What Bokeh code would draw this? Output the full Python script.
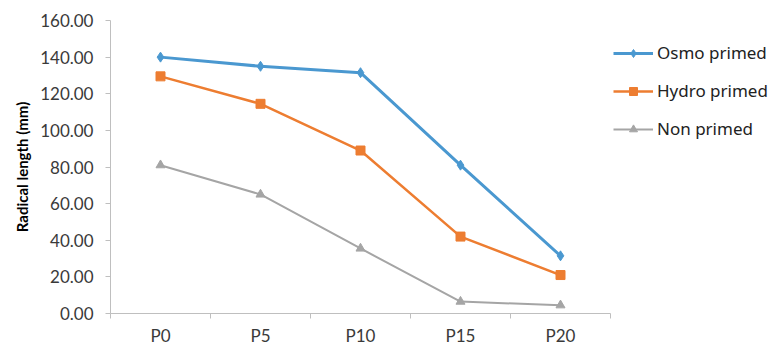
from bokeh.plotting import figure
from bokeh.models import (FixedTicker, NumeralTickFormatter, Range1d, Legend,
                          LegendItem)
from bokeh.embed import file_html
from bokeh.resources import INLINE

# Priming treatments measured at each stress level
categories = ["P0", "P5", "P10", "P15", "P20"]
osmo_primed = [140.0, 135.0, 131.5, 81.0, 31.5]
hydro_primed = [129.5, 114.5, 89.0, 42.0, 21.0]
non_primed = [81.0, 65.0, 35.5, 6.5, 4.5]
y_ticks = [0, 20, 40, 60, 80, 100, 120, 140, 160]

# categories sit at the centre of each slot, ticks at the slot edges
xs = [i + 0.5 for i in range(len(categories))]

p = figure(frame_width=500, frame_height=293, output_backend="svg",
           toolbar_location=None,
           x_range=Range1d(0, len(categories)), y_range=Range1d(0, 160),
           min_border_left=110, min_border_right=164, min_border_top=20,
           min_border_bottom=33)
p.outline_line_color = None
p.xgrid.visible = False
p.ygrid.visible = False

axis_color = "#BFBFBF"
label_color = "#3A3A3A"

# x axis: labels at slot centres, tick marks on slot boundaries
p.xaxis.ticker = FixedTicker(ticks=xs, minor_ticks=list(range(len(categories) + 1)))
p.xaxis.major_label_overrides = {x: c for x, c in zip(xs, categories)}
p.xaxis.major_tick_line_color = None
p.xaxis.major_tick_out = 5
p.xaxis.minor_tick_line_color = axis_color
p.xaxis.minor_tick_out = 5
p.xaxis.minor_tick_in = 0
p.xaxis.axis_line_color = axis_color
p.xaxis.major_label_standoff = 6
p.xaxis.major_label_text_font = "Lato"
p.xaxis.major_label_text_font_size = "17px"
p.xaxis.major_label_text_color = label_color

p.yaxis.ticker = FixedTicker(ticks=y_ticks, minor_ticks=[])
p.yaxis.formatter = NumeralTickFormatter(format="0.00")
p.yaxis.axis_line_color = axis_color
p.yaxis.major_tick_line_color = axis_color
p.yaxis.major_tick_out = 5
p.yaxis.major_tick_in = 0
p.yaxis.major_label_standoff = 12
p.yaxis.major_label_text_font = "Lato"
p.yaxis.major_label_text_font_size = "17px"
p.yaxis.major_label_text_color = label_color
p.yaxis.axis_label = "Radical length (mm)"
p.yaxis.axis_label_text_font = "Lato"
p.yaxis.axis_label_text_font_style = "bold"
p.yaxis.axis_label_text_font_size = "15px"
p.yaxis.axis_label_text_color = "#000000"
p.yaxis.axis_label_standoff = 6

series = [
    ("Osmo primed", osmo_primed, "#4A98D0", "diamond", 3, 10),
    ("Hydro primed", hydro_primed, "#ED7D31", "square", 2.5, 9),
    ("Non primed", non_primed, "#A5A5A5", "triangle", 2, 9),
]

items = []
for name, vals, color, marker, lw, size in series:
    ln = p.line(xs, vals, line_color=color, line_width=lw)
    sc = p.scatter(xs, vals, marker=marker, size=size, fill_color=color,
                   line_color=color)
    items.append(LegendItem(label=name, renderers=[ln, sc]))

legend = Legend(items=items, location=(3, 173))
legend.border_line_color = None
legend.background_fill_alpha = 0
legend.label_text_font = "Noto Sans"
legend.label_text_font_size = "17px"
legend.label_text_color = "#222222"
legend.glyph_width = 40
legend.glyph_height = 20
legend.spacing = 15
legend.label_standoff = 4
legend.padding = 0
legend.margin = 0
legend.label_height = 20
p.add_layout(legend, "right")

open("out.html", "w").write(file_html(p, INLINE))
